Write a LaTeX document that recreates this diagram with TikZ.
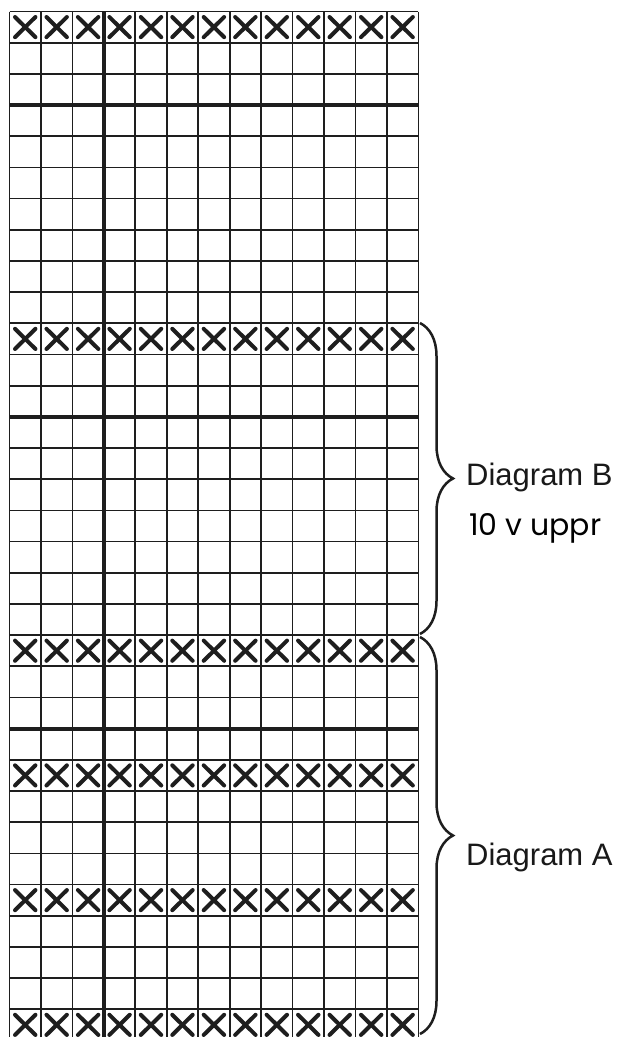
\documentclass[tikz,border=0pt]{standalone}
\usepackage{fontspec}
\setmainfont{Liberation Sans}
\newfontfamily\geofont{Poppins}
\usetikzlibrary{decorations.pathreplacing}
\definecolor{ink}{HTML}{1E1E1E}
\tikzset{
  gridthin/.style={draw=ink, line width=1.7pt},
  gridthick/.style={draw=ink, line width=3.8pt},
  xmark/.style={draw=ink, line width=4pt, line cap=round},
  bracestyle/.style={draw=ink, line width=2.5pt, decorate, decoration={brace, amplitude=33pt}},
  lbl/.style={anchor=base west, inner sep=0pt, text=black!90, font=\fontsize{31}{36}\selectfont},
  sublbl/.style={anchor=base west, inner sep=0pt, text=black, font=\geofont\fontsize{30}{36}\selectfont}
}
\def\gridX{9.5}
\def\gridY{11.5}
\def\cellW{31.45}
\def\cellH{31.18}
\begin{document}
\begin{tikzpicture}[x=1pt,y=-1pt]
\useasboundingbox (0,0) rectangle (620,1037);
\fill[white] (0,0) rectangle (620,1037);
\begin{scope}
\clip (0,0) rectangle (620,1037);
% X marks
\foreach \j in {0,10,20,24,28,32} {
  \foreach \i in {0,...,12} {
    \draw[xmark] ({\gridX+\i*\cellW+5.5},{\gridY+\j*\cellH+5.5}) -- ({\gridX+(\i+1)*\cellW-5.5},{\gridY+(\j+1)*\cellH-5.5});
    \draw[xmark] ({\gridX+\i*\cellW+5.5},{\gridY+(\j+1)*\cellH-5.5}) -- ({\gridX+(\i+1)*\cellW-5.5},{\gridY+\j*\cellH+5.5});
  }
}
% thin grid
\foreach \i in {0,...,13}
  \draw[gridthin] ({\gridX+\i*\cellW},\gridY) -- ({\gridX+\i*\cellW},{\gridY+33*\cellH});
\foreach \j in {0,...,33}
  \draw[gridthin] (\gridX,{\gridY+\j*\cellH}) -- ({\gridX+13*\cellW},{\gridY+\j*\cellH});
% thick lines
\draw[gridthick] ({\gridX+3*\cellW},\gridY) -- ({\gridX+3*\cellW},{\gridY+33*\cellH});
\foreach \j in {3,13,23}
  \draw[gridthick] (\gridX,{\gridY+\j*\cellH}) -- ({\gridX+13*\cellW},{\gridY+\j*\cellH});
% braces
\coordinate (bTop) at (420,323);
\coordinate (bBot) at (420,634);
\coordinate (aTop) at (420,637);
\coordinate (aBot) at (420,1034);
\draw[bracestyle] (bTop) -- (bBot);
\draw[bracestyle] (aTop) -- (aBot);
\end{scope}
\node[lbl] (diagB) at (466,485) {Diagram B};
\node[sublbl] (sub) at (469,535) {10 v uppr};
\node[lbl] (diagA) at (466,865) {Diagram A};
\end{tikzpicture}
\end{document}
